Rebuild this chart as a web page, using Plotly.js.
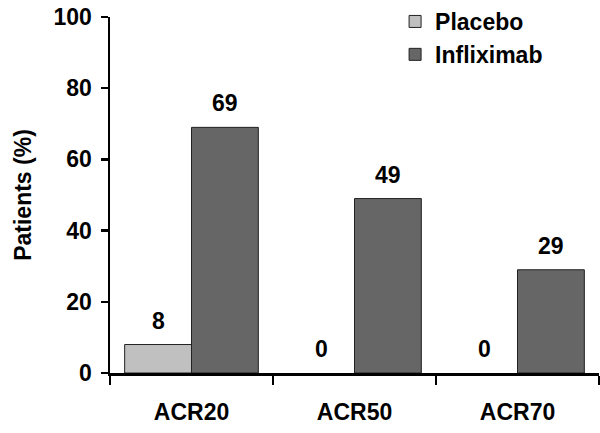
<!DOCTYPE html>
<html><head><meta charset="utf-8">
<script src="https://cdn.plot.ly/plotly-3.0.1.min.js"></script>
<style>html,body{margin:0;padding:0;background:#fff}#c{width:600px;height:433px}</style>
</head><body><div id="c"></div>
<script>
const categories = ["ACR20", "ACR50", "ACR70"];
const placebo = [8, 0, 0];
const infliximab = [69, 49, 29];
const yTicks = [0, 20, 40, 60, 80, 100];

const fam = "Liberation Sans, Arial, sans-serif";
const bold = (s) => ({family: fam, size: s, color: "#000", weight: "bold"});
const barGap = 0.18;
const traces = [
  {type: "bar", name: "Placebo", x: categories, y: placebo, cliponaxis: false,
   marker: {color: "#c0c0c0", line: {color: "#222", width: placebo.map(v => v > 0 ? 1 : 0)}}},
  {type: "bar", name: "Infliximab", x: categories, y: infliximab, cliponaxis: false,
   marker: {color: "#666666", line: {color: "#222", width: infliximab.map(v => v > 0 ? 1 : 0)}}}
];
// value labels as annotations above each bar (offset to each bar within its group)
const annotations = [];
const series = [placebo, infliximab];
const barW = (1 - barGap) / 2;
series.forEach((vals, si) => {
  const off = (si - 0.5) * barW;
  vals.forEach((v, ci) => {
    annotations.push({x: ci + off, y: v, xref: "x", yref: "y", text: String(v), showarrow: false,
      yanchor: "bottom", yshift: 9, font: bold(23)});
  });
});
const layout = {
  width: 600, height: 433,
  margin: {l: 110, r: 1, t: 17, b: 60, autoexpand: false},
  paper_bgcolor: "#fff", plot_bgcolor: "#fff",
  font: bold(23),
  barmode: "group", bargap: barGap, bargroupgap: 0,
  showlegend: true,
  legend: {x: 0.583, xref: "paper", y: 1.008, yref: "container", xanchor: "left", yanchor: "top",
           bgcolor: "rgba(0,0,0,0)", font: bold(23), tracegroupgap: 0},
  annotations: annotations,
  xaxis: {type: "category", showline: true, linecolor: "#000", linewidth: 2.5, ticks: "outside",
          tickson: "boundaries", ticklen: 9, tickwidth: 2.5, tickcolor: "#000", showgrid: false,
          ticklabelstandoff: 17, tickfont: bold(23), range: [-0.5, 2.5]},
  yaxis: {range: [0, 100], tickvals: yTicks, showline: true, linecolor: "#000", linewidth: 2.5,
          ticks: "outside", ticklen: 7, tickwidth: 2.5, tickcolor: "#000", showgrid: false, zeroline: false,
          ticklabelstandoff: 4, tickfont: bold(23),
          title: {text: "Patients (%)", standoff: 16, font: bold(23)}}
};
Plotly.newPlot("c", traces, layout, {displayModeBar: false, staticPlot: true});
</script></body></html>
